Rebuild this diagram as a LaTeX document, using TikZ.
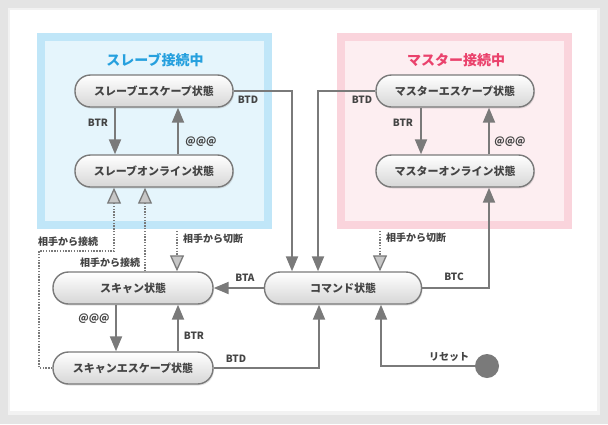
\documentclass[tikz,border=0pt]{standalone}
\usepackage{fontspec}
\setmainfont{Noto Sans CJK JP}
\usetikzlibrary{
	arrows.meta,
	positioning,
	shadows
}
\definecolor{LineGray}{RGB}{122,122,122}
\definecolor{TextGray}{RGB}{68,68,68}
\definecolor{FrameGray}{RGB}{228,228,228}
\definecolor{SlaveBlue}{RGB}{38,160,222}
\definecolor{SlaveFrame}{RGB}{192,230,248}
\definecolor{SlaveFill}{RGB}{229,245,252}
\definecolor{MasterRed}{RGB}{234,66,108}
\definecolor{MasterFrame}{RGB}{250,212,220}
\definecolor{MasterFill}{RGB}{253,238,241}

\begin{document}
\begin{tikzpicture}[x=1pt, y=-1pt,
	state/.style={rectangle, rounded corners=15.5pt, minimum width=158pt, minimum height=32pt,
		draw=LineGray, line width=1.4pt, top color=white, bottom color=black!16,
		drop shadow={opacity=0.22, shadow xshift=1pt, shadow yshift=-1.5pt},
		text=TextGray, font=\bfseries\fontsize{11}{11}\selectfont},
	lbl/.style={text=TextGray, font=\bfseries\fontsize{10}{10}\selectfont, inner sep=0pt},
	flow/.style={draw=LineGray, line width=2pt, -{Triangle[length=15pt,width=12pt]}},
	peer/.style={draw=LineGray, line width=1.3pt, dash pattern=on 1.4pt off 1.4pt,
		-{Triangle[length=16pt,width=14pt,fill=black!22]}}]
			\useasboundingbox (0,0) rectangle (608,424);
			\fill[FrameGray] (0,0) rectangle (608,424);
			\fill[black!5] (8,8) rectangle (600,415);
			\fill[white] (10,10) rectangle (597,411);
			\fill[SlaveFrame] (37,33) rectangle (272,229);
			\fill[SlaveFill] (45,41) rectangle (264,221);
			\fill[MasterFrame] (337,33) rectangle (572,229);
			\fill[MasterFill] (345,41) rectangle (564,221);
			\node[text=SlaveBlue, font=\bfseries\fontsize{14}{14}\selectfont] (slavetitle) at (155,60) {スレーブ接続中};
			\node[text=MasterRed, font=\bfseries\fontsize{14}{14}\selectfont] (mastertitle) at (456,60) {マスター接続中};
			\node[state] (sesc) at (154,91) {スレーブエスケープ状態};
			\node[state] (sonl) at (154,171) {スレーブオンライン状態};
			\node[state] (mesc) at (455,91) {マスターエスケープ状態};
			\node[state] (monl) at (455,171) {マスターオンライン状態};
			\node[state, minimum width=160pt] (scan) at (133,288) {スキャン状態};
			\node[state, minimum width=160pt] (scanesc) at (133,368) {スキャンエスケープ状態};
			\node[state, minimum width=157pt] (cmd) at (343,288) {コマンド状態};
			\node[circle, fill=LineGray, minimum size=24pt, inner sep=0pt] (reset) at (487,366) {};
			\coordinate (sesccorner) at (292,91);
			\coordinate (mesccorner) at (318,91);
			\coordinate (btccorner) at (489,288);
			\coordinate (scanesccorner) at (319,368);
			\coordinate (resetcorner) at (381,366);
			\coordinate (slavecut) at (177,231);
			\coordinate (mastercut) at (380,231);
			\coordinate (peerleft) at (39,368);
			\coordinate (peertop) at (39,251);
			\coordinate (peerturn) at (114,251);
			\draw[flow] ([xshift=-39pt]sesc.south) -- ([xshift=-39pt]sonl.north);
			\draw[flow] ([xshift=24pt]sonl.north) -- ([xshift=24pt]sesc.south);
			\draw[flow] ([xshift=-34pt]mesc.south) -- ([xshift=-34pt]monl.north);
			\draw[flow] ([xshift=34pt]monl.north) -- ([xshift=34pt]mesc.south);
			\draw[flow] (sesc.east) -- (sesccorner) -- (sesccorner |- cmd.north);
			\draw[flow] (mesc.west) -- (mesccorner) -- (mesccorner |- cmd.north);
			\draw[flow] (cmd.east) -- (btccorner) -- (btccorner |- monl.south);
			\draw[flow] (cmd.west) -- (scan.east);
			\draw[flow] ([xshift=-17pt]scan.south) -- ([xshift=-17pt]scanesc.north);
			\draw[flow] ([xshift=45pt]scanesc.north) -- ([xshift=45pt]scan.south);
			\draw[flow] (scanesc.east) -- (scanesccorner) -- (scanesccorner |- cmd.south);
			\draw[flow] (reset.west) -- (resetcorner) -- (resetcorner |- cmd.south);
			\draw[peer] (slavecut) -- (slavecut |- scan.north);
			\draw[peer] (mastercut) -- (mastercut |- cmd.north);
			\draw[peer] (scanesc.west) -- (peerleft) -- (peertop) -- (peerturn) -- (peerturn |- sonl.south);
			\draw[peer] ([xshift=12pt]scan.north) -- ([xshift=12pt]scan.north |- sonl.south);
			\node[lbl] (btr1) at (98,123) {BTR};
			\node[lbl] (at1) at (201,142) {@@@};
			\node[lbl] (btr2) at (403,123) {BTR};
			\node[lbl] (at2) at (510,142) {@@@};
			\node[lbl] (btd1) at (248,100) {BTD};
			\node[lbl] (btd2) at (362,100) {BTD};
			\node[lbl] (bta) at (245,278) {BTA};
			\node[lbl] (btc) at (454,277) {BTC};
			\node[lbl] (at3) at (94,319) {@@@};
			\node[lbl] (btr3) at (194,336) {BTR};
			\node[lbl] (btd3) at (236,359) {BTD};
			\node[lbl] (resetlbl) at (449,357) {リセット};
			\node[lbl, anchor=west] (cut1) at (183,239) {相手から切断};
			\node[lbl, anchor=west] (cut2) at (386,238) {相手から切断};
			\node[lbl] (conn1) at (68,242) {相手から接続};
			\node[lbl] (conn2) at (110,263) {相手から接続};
		\end{tikzpicture}
\end{document}
